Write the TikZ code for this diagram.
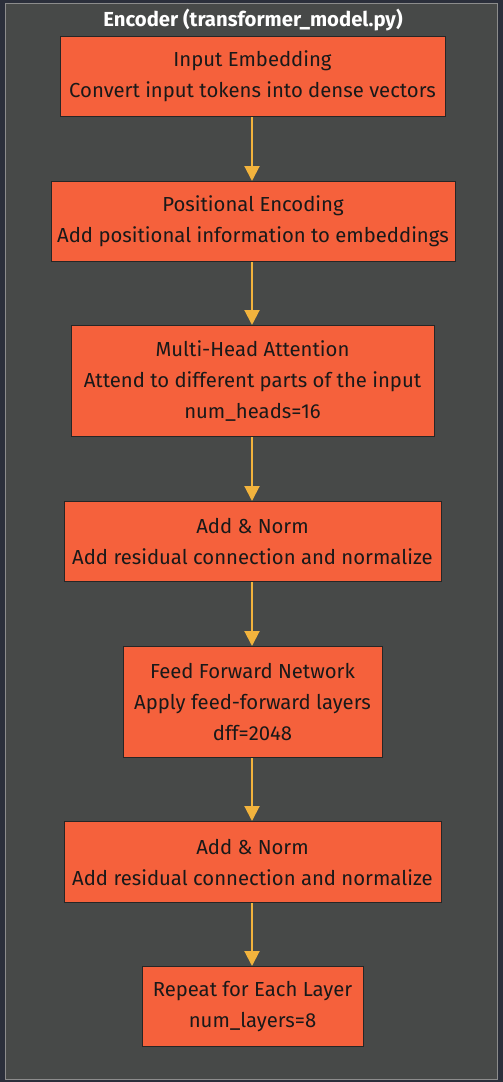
\documentclass[tikz,border=0pt]{standalone}
\usepackage{fontspec}
\setmainfont{Fira Sans}
\usetikzlibrary{arrows.meta}
\definecolor{pagebg}{HTML}{2B2F3B}
\definecolor{clusterbg}{HTML}{474948}
\definecolor{clusterline}{HTML}{8C8C8C}
\definecolor{boxfill}{HTML}{F5613C}
\definecolor{arrowcol}{HTML}{F2B33D}
\tikzset{
  stepbox/.style={draw=black!85, line width=1pt, fill=boxfill, align=center,
    font=\fontsize{20.3pt}{31pt}\selectfont, inner sep=0pt, text=black!90},
  flow/.style={draw=arrowcol, line width=2pt, -{Triangle[width=15pt,length=15pt]}, arrowcol},
}
\begin{document}
\begin{tikzpicture}[x=1pt,y=-1pt]
\useasboundingbox (0,0) rectangle (503,1082);
\fill[pagebg] (0,0) rectangle (503,1082);
\draw[clusterline, fill=clusterbg, line width=1pt] (5.5,3.5) rectangle (497.5,1079);
\node[text=white, font=\bfseries\fontsize{20.3pt}{22pt}\selectfont] (title) at (253,20) {Encoder (transformer\_model.py)};
\node[stepbox, minimum width=385pt, minimum height=80pt] (a) at (252.5,76.5) {Input Embedding\\Convert input tokens into dense vectors};
\node[stepbox, minimum width=404pt, minimum height=80pt] (b) at (253,221.5) {Positional Encoding\\Add positional information to embeddings};
\node[stepbox, minimum width=363pt, minimum height=111pt] (c) at (252.5,381) {Multi-Head Attention\\Attend to different parts of the input\\num\_heads=16};
\node[stepbox, minimum width=377pt, minimum height=80pt] (d) at (252.5,541.5) {Add \& Norm\\Add residual connection and normalize};
\node[stepbox, minimum width=259pt, minimum height=111pt] (e) at (252.5,702) {Feed Forward Network\\Apply feed-forward layers\\dff=2048};
\node[stepbox, minimum width=377pt, minimum height=81pt] (f) at (252.5,862) {Add \& Norm\\Add residual connection and normalize};
\node[stepbox, minimum width=221pt, minimum height=80pt] (g) at (252.5,1006.5) {Repeat for Each Layer\\num\_layers=8};
\foreach \u/\v in {a/b,b/c,c/d,d/e,e/f,f/g}
  \draw[flow] (\u.south -| 252,0) -- (\v.north -| 252,0);
\end{tikzpicture}
\end{document}
